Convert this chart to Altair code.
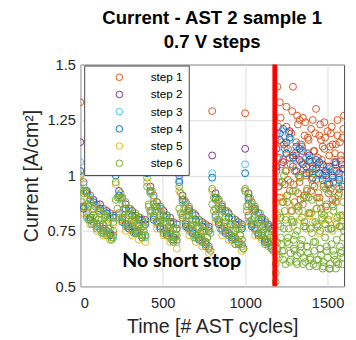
import altair as alt
import pandas as pd

STEPS = ["step 1", "step 2", "step 3", "step 4", "step 5", "step 6"]
COLORS = ["#D95319", "#7E2F8E", "#4DBEEE", "#0072BD", "#EDB120", "#77AC30"]

X_TICKS = [0, 500, 1000, 1500]
Y_TICKS = [0.5, 0.75, 1, 1.25, 1.5]
STOP_CYCLE = [1180]
NOTE = ["No short stop"]
NOTE_AT = [615, 0.615]

# cycles of the sparse samples (steps 1-5) before the stop line
CYC_SPARSE = [0, 20, 40, 60, 80, 100, 120, 140, 160, 180, 200,
              215, 235, 255, 275, 295, 315, 335, 355, 375, 395,
              405, 425, 445, 465, 485, 505, 525, 545, 565, 585,
              600, 620, 640, 660, 680, 700, 720, 740, 760, 780,
              800, 820, 840, 860, 880, 900, 920, 940, 960, 980,
              1000, 1020, 1040, 1060, 1080, 1100, 1120, 1140, 1160]

# cycles of the dense samples (step 6) before the stop line
CYC_DENSE = [0, 10, 20, 30, 40, 50, 60, 70, 80, 90, 100, 110, 120, 130, 140, 150, 160, 170, 180, 190, 200,
             215, 225, 235, 245, 255, 265, 275, 285, 295, 305, 315, 325, 335, 345, 355, 365, 375, 385, 395,
             405, 415, 425, 435, 445, 455, 465, 475, 485, 495, 505, 515, 525, 535, 545, 555, 565, 575, 585,
             600, 610, 620, 630, 640, 650, 660, 670, 680, 690, 700, 710, 720, 730, 740, 750, 760, 770, 780, 790,
             800, 810, 820, 830, 840, 850, 860, 870, 880, 890, 900, 910, 920, 930, 940, 950, 960, 970, 980, 990,
             1000, 1010, 1020, 1030, 1040, 1050, 1060, 1070, 1080, 1090, 1100, 1110, 1120, 1130, 1140, 1150, 1160, 1170]

# cycles after the stop line
CYC_POST = [1190, 1200, 1210, 1220, 1230, 1240, 1250, 1260, 1270, 1280, 1290, 1300, 1310, 1320,
            1330, 1340, 1350, 1360, 1370, 1380, 1390, 1400, 1410, 1420, 1430, 1440, 1450, 1460,
            1470, 1480, 1490, 1500, 1510, 1520, 1530, 1540, 1550, 1560, 1570, 1580, 1590, 1600]
CYC_POST_B = [1195, 1205, 1215, 1225, 1235, 1245, 1255, 1265, 1275, 1285, 1295, 1305, 1315, 1325,
              1335, 1345, 1355, 1365, 1375, 1385, 1395, 1405, 1415, 1425, 1435, 1445, 1455, 1465,
              1475, 1485, 1495, 1505, 1515, 1525, 1535, 1545, 1555, 1565, 1575, 1585, 1595]
CYC_POST_C = [1185, 1185, 1185, 1195, 1215, 1235, 1255, 1275, 1295, 1315, 1335, 1355, 1375,
              1395, 1415, 1435, 1455, 1475, 1495, 1515, 1535, 1555, 1575, 1595]
CYC_POST_S = [1190, 1210, 1230, 1250, 1270, 1290, 1310, 1330, 1350, 1370, 1390, 1410, 1430,
              1450, 1470, 1490, 1510, 1530, 1550, 1570, 1590]

STEP1_PRE = [1.33, 0.97, 0.83, 0.91, 0.79, 0.87, 0.77, 0.85, 0.75, 0.83, 0.73,
             1.27, 0.83, 0.90, 0.78, 0.85, 0.77, 0.82, 0.75, 0.80, 0.73,
             1.27, 0.84, 0.91, 0.79, 0.86, 0.76, 0.82, 0.74, 0.79, 0.71,
             1.24, 0.81, 0.88, 0.76, 0.83, 0.73, 0.80, 0.71, 0.78, 0.68,
             1.29, 0.82, 0.89, 0.76, 0.84, 0.74, 0.81, 0.72, 0.79, 0.69,
             1.28, 0.82, 0.88, 0.76, 0.83, 0.73, 0.79, 0.70, 0.76]
STEP2_PRE = [1.15, 0.86, 0.93, 0.81, 0.89, 0.78, 0.87, 0.76, 0.84, 0.74, 0.82,
             1.10, 0.93, 0.80, 0.87, 0.77, 0.84, 0.75, 0.81, 0.73, 0.80,
             1.11, 0.95, 0.81, 0.88, 0.77, 0.84, 0.74, 0.81, 0.72, 0.78,
             1.00, 0.91, 0.78, 0.85, 0.75, 0.82, 0.72, 0.79, 0.70, 0.77,
             1.09, 0.92, 0.79, 0.86, 0.75, 0.83, 0.72, 0.80, 0.70, 0.78,
             1.12, 0.92, 0.78, 0.85, 0.74, 0.81, 0.71, 0.78, 0.68]
STEP3_PRE = [1.06, 0.96, 0.82, 0.90, 0.78, 0.86, 0.76, 0.84, 0.74, 0.82, 0.72,
             1.04, 0.82, 0.89, 0.77, 0.84, 0.75, 0.81, 0.74, 0.79, 0.72,
             1.05, 0.83, 0.90, 0.78, 0.85, 0.75, 0.81, 0.72, 0.78, 0.70,
             0.98, 0.80, 0.87, 0.75, 0.82, 0.72, 0.79, 0.70, 0.77, 0.67,
             1.01, 0.81, 0.88, 0.75, 0.83, 0.73, 0.80, 0.71, 0.78, 0.68,
             1.05, 0.81, 0.87, 0.75, 0.82, 0.72, 0.78, 0.69, 0.75]
STEP4_PRE = [1.02, 0.85, 0.92, 0.80, 0.88, 0.77, 0.85, 0.75, 0.83, 0.73, 0.81,
             1.00, 0.91, 0.79, 0.85, 0.76, 0.82, 0.74, 0.80, 0.72, 0.78,
             1.01, 0.93, 0.80, 0.86, 0.76, 0.82, 0.73, 0.79, 0.71, 0.76,
             0.97, 0.89, 0.77, 0.84, 0.74, 0.80, 0.71, 0.77, 0.69, 0.75,
             0.99, 0.90, 0.78, 0.85, 0.74, 0.81, 0.71, 0.78, 0.69, 0.76,
             1.01, 0.90, 0.77, 0.84, 0.73, 0.80, 0.70, 0.77, 0.67]
STEP5_PRE = [0.98, 0.83, 0.89, 0.78, 0.85, 0.75, 0.83, 0.73, 0.80, 0.71, 0.78,
             0.96, 0.80, 0.87, 0.75, 0.82, 0.73, 0.79, 0.71, 0.77, 0.70,
             0.97, 0.81, 0.88, 0.76, 0.83, 0.73, 0.79, 0.70, 0.76, 0.67,
             0.93, 0.78, 0.85, 0.73, 0.80, 0.70, 0.77, 0.68, 0.75, 0.65,
             0.93, 0.79, 0.86, 0.73, 0.81, 0.71, 0.78, 0.69, 0.76, 0.66,
             0.93, 0.79, 0.85, 0.73, 0.80, 0.71, 0.77, 0.68, 0.73]
STEP6_PRE = [1.00, 0.86, 0.92, 0.93, 0.81, 0.86, 0.89, 0.78, 0.82, 0.86, 0.76, 0.80, 0.84, 0.74, 0.78, 0.82, 0.73, 0.76, 0.81, 0.71, 0.75,
             0.97, 0.85, 0.90, 0.92, 0.81, 0.85, 0.88, 0.78, 0.82, 0.85, 0.76, 0.79, 0.83, 0.74, 0.77, 0.81, 0.72, 0.75, 0.79,
             0.99, 0.87, 0.92, 0.93, 0.82, 0.86, 0.88, 0.79, 0.82, 0.85, 0.76, 0.79, 0.82, 0.73, 0.76, 0.79, 0.70, 0.73, 0.76,
             0.95, 0.83, 0.88, 0.89, 0.79, 0.84, 0.86, 0.76, 0.80, 0.83, 0.73, 0.77, 0.80, 0.71, 0.75, 0.78, 0.68, 0.72, 0.76, 0.66,
             0.94, 0.84, 0.89, 0.90, 0.80, 0.85, 0.87, 0.77, 0.81, 0.84, 0.74, 0.78, 0.81, 0.72, 0.75, 0.79, 0.69, 0.73, 0.77, 0.67,
             0.94, 0.84, 0.89, 0.90, 0.80, 0.85, 0.86, 0.76, 0.80, 0.83, 0.73, 0.77, 0.80, 0.70, 0.74, 0.77, 0.67, 0.71]
STEP6_PRE_B = [0.94, 0.88, 0.93, 0.86, 0.87, 0.80, 0.89, 0.81, 0.85, 0.81, 0.77, 0.84, 0.78, 0.80, 0.74, 0.81, 0.75, 0.79, 0.76, 0.72, 0.79,
               0.89, 0.90, 0.81, 0.90, 0.81, 0.85, 0.81, 0.77, 0.83, 0.78, 0.80, 0.74, 0.81, 0.75, 0.78, 0.76, 0.73, 0.77, 0.73,
               0.95, 0.86, 0.93, 0.84, 0.87, 0.84, 0.79, 0.84, 0.79, 0.80, 0.74, 0.81, 0.75, 0.77, 0.75, 0.71, 0.76, 0.72, 0.73,
               0.85, 0.92, 0.82, 0.85, 0.82, 0.77, 0.82, 0.77, 0.78, 0.72, 0.79, 0.73, 0.76, 0.74, 0.70, 0.75, 0.70, 0.72, 0.67, 0.74,
               0.87, 0.90, 0.85, 0.80, 0.85, 0.76, 0.84, 0.77, 0.79, 0.77, 0.73, 0.78, 0.73, 0.75, 0.69, 0.76, 0.70, 0.73, 0.71, 0.67,
               0.93, 0.86, 0.87, 0.79, 0.86, 0.78, 0.81, 0.78, 0.74, 0.79, 0.74, 0.75, 0.69, 0.76, 0.70, 0.72, 0.70, 0.66]

STEP1_POST = [1.18, 0.95, 1.33, 1.05, 0.88, 1.12, 1.22, 0.98, 1.08, 0.84, 1.40, 1.02, 1.15, 0.92,
              1.25, 1.06, 0.87, 1.18, 1.00, 1.10, 0.83, 1.21, 1.04, 0.95, 1.30, 1.08, 0.90, 1.16,
              1.00, 1.12, 0.86, 1.20, 1.03, 0.94, 1.14, 1.06, 0.88, 1.18, 0.99, 1.09, 0.82, 1.27]
STEP1_POST_B = [1.40, 1.08, 1.26, 0.97, 1.14, 1.02, 0.91, 1.19, 1.05, 1.29, 0.96, 1.10, 1.27, 1.00,
                0.89, 1.13, 1.03, 1.24, 0.93, 1.16, 1.06, 0.98, 1.11, 1.19, 0.90, 1.01, 1.23, 1.07,
                0.95, 1.17, 1.04, 0.92, 1.13, 1.22, 0.97, 1.10, 1.02, 0.91, 1.15, 1.05, 1.21]
STEP1_POST_C = [1.02, 1.22, 0.90, 1.15, 1.07, 0.96, 1.31, 1.12, 0.93, 1.19, 1.04, 0.88, 1.09, 1.23,
                0.97, 1.14, 1.26, 0.91, 1.08, 1.17, 1.01, 0.93, 1.25, 1.11, 0.98, 1.05, 1.18, 0.85,
                1.13, 1.24, 1.01, 0.96, 1.09, 1.19, 0.89, 1.02, 1.14, 1.25, 0.94, 1.07, 1.17, 1.03]
STEP2_POST = [1.12, 1.19, 1.06, 1.15, 1.20, 1.09, 1.13, 1.07, 1.11, 1.04, 1.09,
              1.03, 1.07, 1.01, 1.05, 1.00, 1.04, 0.99, 1.06, 1.01, 1.03]
STEP3_POST = [1.18, 1.10, 1.20, 1.13, 1.16, 1.05, 1.11, 1.14, 1.06, 1.10, 1.08,
              1.02, 1.06, 1.00, 1.04, 0.99, 1.03, 1.01, 0.97, 1.00, 0.96]
STEP4_POST = [1.04, 1.16, 1.21, 1.10, 1.17, 1.08, 1.02, 1.12, 1.05, 1.01, 1.07,
              0.99, 1.03, 1.06, 0.98, 1.02, 0.96, 1.00, 1.05, 0.98, 0.95]
STEP5_POST = [0.88, 0.83, 0.90, 0.81, 0.87, 0.77, 0.85, 0.80, 0.84, 0.76, 0.82,
              0.79, 0.85, 0.74, 0.80, 0.78, 0.82, 0.75, 0.79, 0.77, 0.81]
STEP6_POST = [0.64, 0.78, 0.97, 0.69, 0.62, 0.84, 1.02, 0.72, 0.61, 0.80, 0.93, 0.66, 0.61, 0.86,
              0.99, 0.68, 0.60, 0.79, 0.90, 0.65, 0.59, 0.83, 0.96, 0.66, 0.59, 0.77, 0.88, 0.64,
              0.58, 0.82, 0.94, 0.63, 0.58, 0.76, 0.87, 0.64, 0.58, 0.81, 0.92, 0.65, 0.60, 0.75]
STEP6_POST_B = [0.70, 0.63, 0.81, 0.66, 0.76, 0.60, 0.88, 0.69, 0.62, 0.79, 0.67, 0.73, 0.60, 0.84,
                0.65, 0.71, 0.77, 0.61, 0.68, 0.90, 0.63, 0.74, 0.60, 0.70, 0.78, 0.62, 0.67, 0.81,
                0.59, 0.72, 0.66, 0.76, 0.58, 0.69, 0.86, 0.62, 0.71, 0.60, 0.77, 0.66, 0.72]
STEP6_POST_C = [0.52, 0.56, 0.60, 0.67, 0.72, 0.66, 0.70, 0.65, 0.71, 0.64, 0.69, 0.63, 0.68,
                0.62, 0.70, 0.62, 0.67, 0.61, 0.68, 0.60, 0.66, 0.61, 0.68, 0.63]
STEP6_POST_D = [0.82, 0.95, 0.77, 0.88, 1.00, 0.80, 0.91, 0.76, 0.97, 0.84, 0.79, 0.93, 0.75, 0.86,
                0.99, 0.81, 0.90, 0.77, 0.94, 0.83, 0.76, 0.89, 1.01, 0.79, 0.85, 0.92, 0.75, 0.83,
                0.96, 0.78, 0.87, 0.80, 0.93, 0.76, 0.84, 0.90, 0.78, 0.95, 0.82, 0.77, 0.88]

SERIES = [
    ("step 1", [(CYC_SPARSE, STEP1_PRE), (CYC_POST, STEP1_POST), (CYC_POST_B, STEP1_POST_B),
                (CYC_POST, STEP1_POST_C)]),
    ("step 2", [(CYC_SPARSE, STEP2_PRE), (CYC_POST_S, STEP2_POST)]),
    ("step 3", [(CYC_SPARSE, STEP3_PRE), (CYC_POST_S, STEP3_POST)]),
    ("step 4", [(CYC_SPARSE, STEP4_PRE), (CYC_POST_S, STEP4_POST)]),
    ("step 5", [(CYC_SPARSE, STEP5_PRE), (CYC_POST_S, STEP5_POST)]),
    ("step 6", [(CYC_DENSE, STEP6_PRE), (CYC_DENSE, STEP6_PRE_B), (CYC_POST, STEP6_POST),
                (CYC_POST_B, STEP6_POST_B), (CYC_POST_C, STEP6_POST_C), (CYC_POST_B, STEP6_POST_D)]),
]

rows = []
for order, (name, parts) in enumerate(SERIES):
    for xs, ys in parts:
        assert len(xs) == len(ys), (name, len(xs), len(ys))
        for x, y in zip(xs, ys):
            rows.append({"cycle": x, "current": y, "step": name, "ord": order})
df = pd.DataFrame(rows)

FONT = "Liberation Sans"
AX = "#262626"

x_scale = alt.Scale(domain=[0, 1600], nice=False, zero=False)
y_scale = alt.Scale(domain=[0.5, 1.5], nice=False, zero=False)

points = alt.Chart(df).mark_point(
    shape="circle", filled=False, size=50, strokeWidth=1, opacity=1, clip=True
).encode(
    x=alt.X("cycle:Q", scale=x_scale,
            axis=alt.Axis(values=X_TICKS, title="Time [# AST cycles]", labelExpr="'' + datum.value",
                          labelPadding=10, titlePadding=6)),
    y=alt.Y("current:Q", scale=y_scale,
            axis=alt.Axis(values=Y_TICKS, title="Current [A/cm²]", labelExpr="'' + datum.value",
                          labelPadding=5, titlePadding=6)),
    color=alt.Color("step:N", scale=alt.Scale(domain=STEPS, range=COLORS),
                    legend=alt.Legend(title=None, orient="none", legendX=4, legendY=1,
                                      fillColor="white", strokeColor="#444", padding=6,
                                      symbolOffset=24, labelOffset=26, rowPadding=5.6,
                                      symbolSize=45, symbolStrokeWidth=1, symbolType="circle",
                                      labelFontSize=12, labelFont=FONT, labelColor="black")),
    order=alt.Order("ord:Q"),
)

rule_df = pd.DataFrame({"cycle": STOP_CYCLE})
rule = alt.Chart(rule_df).mark_rule(color="#ff0000", strokeWidth=5).encode(x=alt.X("cycle:Q", scale=x_scale))

note_df = pd.DataFrame({"cycle": [NOTE_AT[0]], "current": [NOTE_AT[1]], "label": NOTE})
note = alt.Chart(note_df).mark_text(
    font="Lato", fontWeight="bold", fontSize=20, color="black", align="center", baseline="middle"
).encode(x=alt.X("cycle:Q", scale=x_scale), y=alt.Y("current:Q", scale=y_scale), text="label:N")

chart = alt.layer(points, rule, note).properties(
    width=270, height=227,
    autosize=alt.AutoSizeParams(type="none"),
    padding={"left": 74, "top": 54, "right": 4, "bottom": 50},
    title=alt.TitleParams(["Current - AST 2 sample 1", "0.7 V steps"], fontSize=19, fontWeight="bold",
                          font=FONT, color="black", lineHeight=25, anchor="middle", offset=6),
).configure_view(stroke="#444", strokeWidth=1).configure_axis(
    grid=True, gridColor="#dcdcdc", gridWidth=1, domain=False, ticks=False,
    labelFont=FONT, labelFontSize=15, labelColor=AX,
    titleFont=FONT, titleFontSize=20, titleFontWeight="normal", titleColor=AX,
)

chart.save("out.html", embed_options={"renderer": "svg", "actions": False})
